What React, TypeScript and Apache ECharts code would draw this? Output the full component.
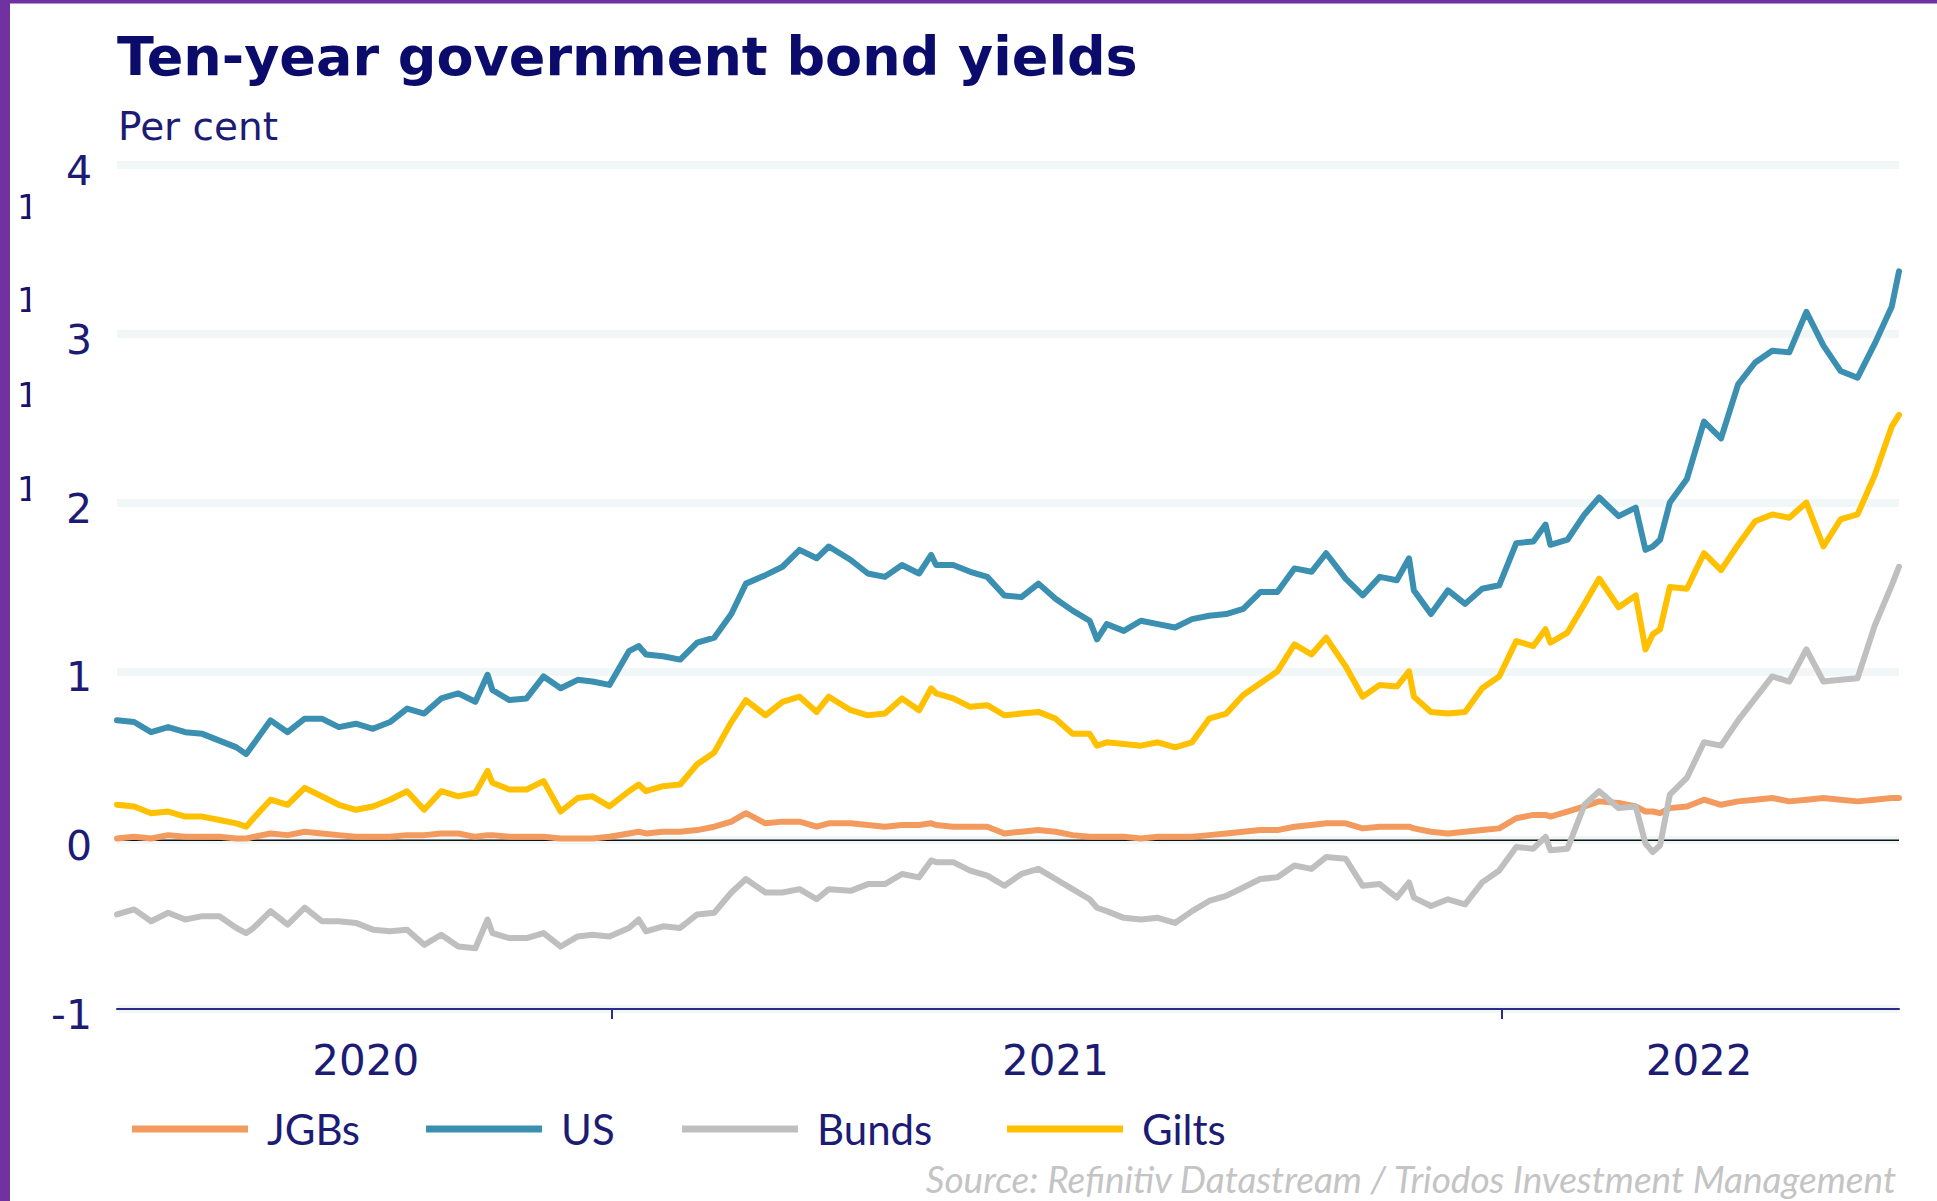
import React, { useEffect, useRef } from 'react';
import * as echarts from 'echarts';

// ---- Data (weekly closes + a few intra-week extremes), per cent ----
const dates = [
  // 2020
  '2020-06-12', '2020-06-19', '2020-06-26', '2020-07-03', '2020-07-10', '2020-07-17', '2020-07-24', '2020-07-31',
  '2020-08-04', '2020-08-07', '2020-08-14', '2020-08-21', '2020-08-28', '2020-09-04', '2020-09-11', '2020-09-18',
  '2020-09-25', '2020-10-02', '2020-10-09', '2020-10-16', '2020-10-23', '2020-10-30', '2020-11-06', '2020-11-11',
  '2020-11-13', '2020-11-20', '2020-11-27', '2020-12-04', '2020-12-11', '2020-12-18', '2020-12-24', '2020-12-31',
  // 2021
  '2021-01-08', '2021-01-12', '2021-01-15', '2021-01-22', '2021-01-29', '2021-02-05', '2021-02-12', '2021-02-19',
  '2021-02-25', '2021-03-05', '2021-03-12', '2021-03-19', '2021-03-26', '2021-03-31', '2021-04-09', '2021-04-16',
  '2021-04-23', '2021-04-30', '2021-05-07', '2021-05-12', '2021-05-14', '2021-05-21', '2021-05-28', '2021-06-04',
  '2021-06-11', '2021-06-18', '2021-06-25', '2021-07-02', '2021-07-09', '2021-07-16', '2021-07-19', '2021-07-23',
  '2021-07-30', '2021-08-06', '2021-08-13', '2021-08-20', '2021-08-27', '2021-09-03', '2021-09-10', '2021-09-17',
  '2021-09-24', '2021-10-01', '2021-10-08', '2021-10-15', '2021-10-21', '2021-10-29', '2021-11-05', '2021-11-12',
  '2021-11-19', '2021-11-24', '2021-11-26', '2021-12-03', '2021-12-10', '2021-12-17', '2021-12-24', '2021-12-31',
  // 2022
  '2022-01-07', '2022-01-14', '2022-01-19', '2022-01-21', '2022-01-28', '2022-02-04', '2022-02-10', '2022-02-18',
  '2022-02-25', '2022-03-01', '2022-03-04', '2022-03-07', '2022-03-11', '2022-03-18', '2022-03-25', '2022-04-01',
  '2022-04-08', '2022-04-15', '2022-04-22', '2022-04-29', '2022-05-06', '2022-05-13', '2022-05-20', '2022-05-27',
  '2022-06-03', '2022-06-10', '2022-06-13',
];

const jgbs = [
  0.01, 0.02, 0.01, 0.03, 0.02, 0.02, 0.02, 0.01,
  0.01, 0.02, 0.04, 0.03, 0.05, 0.04, 0.03, 0.02,
  0.02, 0.02, 0.03, 0.03, 0.04, 0.04, 0.02, 0.03,
  0.03, 0.02, 0.02, 0.02, 0.01, 0.01, 0.01, 0.02,
  0.04, 0.05, 0.04, 0.05, 0.05, 0.06, 0.08, 0.11,
  0.16, 0.10, 0.11, 0.11, 0.08, 0.10, 0.10, 0.09,
  0.08, 0.09, 0.09, 0.10, 0.09, 0.08, 0.08, 0.08,
  0.04, 0.05, 0.06, 0.05, 0.03, 0.02, 0.02, 0.02,
  0.02, 0.01, 0.02, 0.02, 0.02, 0.03, 0.04, 0.05,
  0.06, 0.06, 0.08, 0.09, 0.10, 0.10, 0.07, 0.08,
  0.08, 0.08, 0.07, 0.05, 0.04, 0.05, 0.06, 0.07,
  0.13, 0.15, 0.15, 0.14, 0.17, 0.20, 0.23, 0.22,
  0.20, 0.17, 0.17, 0.16, 0.19, 0.20, 0.24, 0.21,
  0.23, 0.24, 0.25, 0.23, 0.24, 0.25, 0.24, 0.23,
  0.24, 0.25, 0.25,
];

const us = [
  0.71, 0.70, 0.64, 0.67, 0.64, 0.63, 0.59, 0.55,
  0.51, 0.57, 0.71, 0.64, 0.72, 0.72, 0.67, 0.69,
  0.66, 0.70, 0.78, 0.75, 0.84, 0.87, 0.82, 0.98,
  0.89, 0.83, 0.84, 0.97, 0.90, 0.95, 0.94, 0.92,
  1.12, 1.15, 1.10, 1.09, 1.07, 1.17, 1.20, 1.34,
  1.52, 1.57, 1.62, 1.72, 1.67, 1.74, 1.66, 1.58,
  1.56, 1.63, 1.58, 1.69, 1.63, 1.63, 1.59, 1.56,
  1.45, 1.44, 1.52, 1.43, 1.36, 1.30, 1.19, 1.28,
  1.24, 1.30, 1.28, 1.26, 1.31, 1.33, 1.34, 1.37,
  1.47, 1.47, 1.61, 1.59, 1.70, 1.55, 1.45, 1.56,
  1.54, 1.67, 1.48, 1.34, 1.48, 1.40, 1.49, 1.51,
  1.76, 1.77, 1.87, 1.75, 1.78, 1.93, 2.03, 1.92,
  1.97, 1.72, 1.74, 1.78, 2.00, 2.14, 2.48, 2.38,
  2.70, 2.83, 2.90, 2.89, 3.13, 2.93, 2.78, 2.74,
  2.94, 3.16, 3.37,
];

const bunds = [
  -0.44, -0.41, -0.48, -0.43, -0.47, -0.45, -0.45, -0.52,
  -0.55, -0.52, -0.42, -0.50, -0.40, -0.48, -0.48, -0.49,
  -0.53, -0.54, -0.53, -0.62, -0.56, -0.63, -0.64, -0.47,
  -0.55, -0.58, -0.58, -0.55, -0.63, -0.57, -0.56, -0.57,
  -0.52, -0.47, -0.54, -0.51, -0.52, -0.44, -0.43, -0.31,
  -0.23, -0.31, -0.31, -0.29, -0.35, -0.29, -0.30, -0.26,
  -0.26, -0.20, -0.22, -0.12, -0.13, -0.13, -0.18, -0.21,
  -0.27, -0.20, -0.17, -0.23, -0.29, -0.35, -0.40, -0.42,
  -0.46, -0.47, -0.46, -0.49, -0.42, -0.36, -0.33, -0.28,
  -0.23, -0.22, -0.15, -0.17, -0.10, -0.11, -0.27, -0.26,
  -0.34, -0.25, -0.34, -0.39, -0.35, -0.38, -0.25, -0.18,
  -0.04, -0.05, 0.02, -0.06, -0.05, 0.21, 0.29, 0.19,
  0.20, -0.02, -0.07, -0.03, 0.27, 0.37, 0.58, 0.56,
  0.71, 0.84, 0.97, 0.94, 1.13, 0.94, 0.95, 0.96,
  1.27, 1.51, 1.62,
];

const gilts = [
  0.21, 0.20, 0.16, 0.17, 0.14, 0.14, 0.12, 0.10,
  0.08, 0.13, 0.24, 0.21, 0.31, 0.26, 0.21, 0.18,
  0.20, 0.24, 0.29, 0.18, 0.29, 0.26, 0.28, 0.41,
  0.34, 0.30, 0.30, 0.35, 0.17, 0.25, 0.26, 0.20,
  0.29, 0.33, 0.29, 0.32, 0.33, 0.45, 0.52, 0.70,
  0.83, 0.74, 0.82, 0.85, 0.76, 0.85, 0.77, 0.74,
  0.75, 0.84, 0.77, 0.90, 0.87, 0.84, 0.79, 0.80,
  0.74, 0.75, 0.76, 0.72, 0.63, 0.63, 0.56, 0.58,
  0.57, 0.56, 0.58, 0.55, 0.58, 0.72, 0.75, 0.86,
  0.93, 1.00, 1.16, 1.10, 1.20, 1.03, 0.85, 0.92,
  0.91, 1.00, 0.85, 0.76, 0.75, 0.76, 0.90, 0.97,
  1.18, 1.15, 1.25, 1.17, 1.23, 1.40, 1.55, 1.38,
  1.45, 1.13, 1.22, 1.25, 1.50, 1.49, 1.70, 1.60,
  1.75, 1.89, 1.93, 1.91, 2.00, 1.74, 1.90, 1.93,
  2.16, 2.45, 2.52,
];

const seriesNames = ['JGBs', 'US', 'Bunds', 'Gilts'];
const seriesColors = ['#F39A5E', '#3B8FB0', '#BFBFBF', '#FFC000'];
const axisStart = '2020-06-12';
const axisEnd = '2022-06-13';
const yearTickDates = ['2021-01-01', '2022-01-01'];
const yearLabelDates = ['2020-09-22', '2021-07-02', '2022-03-23'];
const legendLefts = [132, 426, 682, 1007];
const artifactYs = [207, 300, 395, 489];

const TITLE = 'Ten-year government bond yields';
const SUBTITLE = 'Per cent';
const SOURCE = 'Source: Refinitiv Datastream / Triodos Investment Management';

const NAVY = '#1c1c74';
const AXIS_NAVY = '#2c2c8a';

const toTs = (s: string) => {
  const [y, m, d] = s.split('-').map(Number);
  return new Date(y, m - 1, d).getTime();
};

export default function App() {
  const ref = useRef<HTMLDivElement>(null);

  useEffect(() => {
    if (!ref.current) return;
    const chart = echarts.init(ref.current, null, { renderer: 'svg' });
    const minTs = toTs(axisStart);
    const maxTs = toTs(axisEnd);
    const values = [jgbs, us, bunds, gilts];

    const lineSeries = seriesNames.map((name, k) => ({
      name,
      type: 'line',
      showSymbol: false,
      symbol: 'none',
      z: 3 + k,
      lineStyle: { width: 6, color: seriesColors[k], cap: 'round', join: 'round' },
      itemStyle: { color: seriesColors[k] },
      data: dates.map((d, i) => [toTs(d), values[k][i]]),
    }));

    const zeroSeries = {
      name: 'zero',
      type: 'line',
      showSymbol: false,
      symbol: 'none',
      silent: true,
      z: 2,
      lineStyle: { width: 1.5, color: '#111111' },
      data: [[minTs, 0], [maxTs, 0]],
    };

    const legends = seriesNames.map((name, k) => ({
      data: [name],
      left: legendLefts[k],
      top: 1108,
      padding: 0,
      icon: 'rect',
      itemWidth: 116,
      itemHeight: 7,
      selectedMode: false,
      textStyle: {
        fontFamily: 'Lato',
        fontSize: 42,
        color: NAVY,
        padding: [0, 0, 0, 14],
      },
    }));

    const graphics: any[] = [
      { type: 'rect', shape: { x: 0, y: 0, width: 10, height: 1201 }, style: { fill: '#7131A0' }, z: 100 },
      { type: 'rect', shape: { x: 0, y: 0, width: 1937, height: 3.5 }, style: { fill: '#7131A0' }, z: 100 },
      {
        type: 'text', x: 117, y: 56, z: 100,
        style: { text: TITLE, fontFamily: 'DejaVu Sans', fontWeight: 'bold', fontSize: 54, fill: '#0b0b6b', align: 'left', verticalAlign: 'middle' },
      },
      {
        type: 'text', x: 118, y: 126, z: 100,
        style: { text: SUBTITLE, fontFamily: 'DejaVu Sans', fontSize: 39, fill: NAVY, align: 'left', verticalAlign: 'middle' },
      },
      {
        type: 'text', x: 1896, y: 1178, z: 100,
        style: { text: SOURCE, fontFamily: 'Lato', fontStyle: 'italic', fontSize: 37, fill: '#c4c4c4', align: 'right', verticalAlign: 'middle' },
      },
    ];
    artifactYs.forEach((y) => {
      graphics.push({
        type: 'text', x: 17, y, z: 100,
        style: { text: '1', fontFamily: 'DejaVu Sans', fontSize: 34, fill: '#14146e', align: 'left', verticalAlign: 'middle' },
      });
      graphics.push({
        type: 'rect', z: 101,
        shape: { x: 30.5, y: y - 20, width: 16, height: 40 },
        style: { fill: '#ffffff' },
      });
    });

    const option: any = {
      animation: false,
      backgroundColor: '#ffffff',
      grid: { left: 117, right: 38, top: 165, bottom: 192, containLabel: false },
      xAxis: {
        type: 'value',
        min: minTs,
        max: maxTs,
        axisLine: { show: true, onZero: false, lineStyle: { color: AXIS_NAVY, width: 2 } },
        axisTick: {
          show: true,
          customValues: yearTickDates.map(toTs),
          length: 10,
          lineStyle: { color: AXIS_NAVY, width: 2 },
        },
        axisLabel: {
          show: true,
          customValues: yearLabelDates.map(toTs),
          formatter: (v: number) => String(new Date(v).getFullYear()),
          color: NAVY,
          fontFamily: 'DejaVu Sans',
          fontSize: 42,
          margin: 30,
        },
        splitLine: { show: false },
      },
      yAxis: {
        type: 'value',
        min: -1,
        max: 4,
        interval: 1,
        axisLine: { show: false },
        axisTick: { show: false },
        axisLabel: {
          margin: 25,
          formatter: (v: number) => `{n|${v}}`,
          rich: {
            n: {
              color: NAVY,
              fontFamily: 'DejaVu Sans',
              fontSize: 41,
              padding: [12, 0, 0, 0],
            },
          },
        },
        splitLine: { show: true, lineStyle: { color: '#f1f6f7', width: 8 } },
      },
      legend: legends,
      graphic: graphics,
      series: [zeroSeries, ...lineSeries],
    };

    chart.setOption(option);
    return () => chart.dispose();
  }, []);

  return (
    <div
      ref={ref}
      style={{ position: 'absolute', left: 0, top: 0, width: 1937, height: 1201 }}
    />
  );
}
